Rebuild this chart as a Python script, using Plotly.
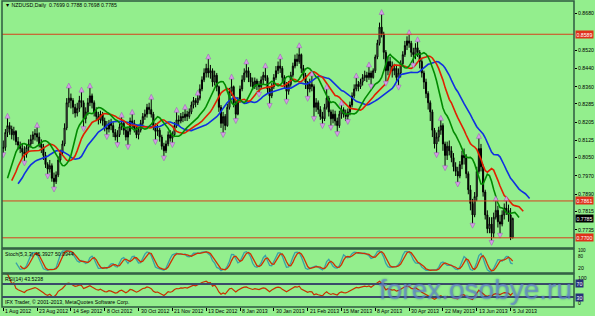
import plotly.graph_objects as go

# ---------------- data ----------------
first_open = 0.8090
closes = [
 .8095,.8160,.8190,.8175,.8150,.8165,.8120,.8105,.8090,.8075,
 .8065,.8095,.8110,.8130,.8150,.8155,.8140,.8110,.8095,.8060,
 .8020,.8000,.8015,.7960,.7945,.7975,.8040,.8070,.8110,.8180,
 .8290,.8310,.8300,.8270,.8245,.8265,.8300,.8290,.8220,.8250,
 .8290,.8320,.8290,.8250,.8230,.8215,.8240,.8210,.8180,.8175,
 .8200,.8190,.8160,.8140,.8150,.8185,.8200,.8170,.8140,.8165,
 .8210,.8200,.8180,.8150,.8170,.8200,.8230,.8240,.8270,.8260,
 .8240,.8190,.8165,.8170,.8140,.8100,.8080,.8110,.8150,.8135,
 .8150,.8190,.8215,.8210,.8230,.8225,.8240,.8230,.8250,.8280,
 .8300,.8290,.8310,.8350,.8390,.8420,.8440,.8420,.8430,.8380,
 .8410,.8360,.8270,.8200,.8230,.8190,.8270,.8340,.8360,.8290,
 .8240,.8300,.8350,.8390,.8420,.8430,.8400,.8380,.8360,.8385,
 .8370,.8360,.8390,.8410,.8400,.8350,.8320,.8360,.8400,.8430,
 .8450,.8440,.8400,.8370,.8340,.8370,.8410,.8450,.8480,.8470,
 .8500,.8440,.8410,.8380,.8350,.8370,.8360,.8270,.8290,.8260,
 .8230,.8220,.8270,.8310,.8250,.8220,.8240,.8210,.8190,.8240,
 .8260,.8240,.8230,.8250,.8280,.8320,.8350,.8370,.8360,.8380,
 .8400,.8410,.8400,.8420,.8400,.8430,.8490,.8550,.8620,.8590,
 .8510,.8430,.8470,.8450,.8430,.8440,.8400,.8420,.8460,.8500,
 .8540,.8560,.8550,.8510,.8500,.8530,.8510,.8470,.8420,.8380,
 .8330,.8290,.8250,.8170,.8110,.8140,.8170,.8190,.8110,.8060,
 .8100,.8080,.8050,.8010,.7990,.7970,.8020,.8060,.8050,.7980,
 .7910,.7850,.7800,.7880,.7990,.8090,.8010,.7900,.7800,.7740,
 .7760,.7720,.7790,.7820,.7770,.7760,.7800,.7830,.7820,.7800,
 .7700,.7785]
highs = [
 .8125,.8175,.8224,.8205,.8190,.8185,.8170,.8140,.8120,.8110,
 .8100,.8110,.8130,.8150,.8165,.8175,.8184,.8160,.8130,.8110,
 .8075,.8030,.8040,.8025,.7985,.7990,.8055,.8085,.8125,.8200,
 .8310,.8356,.8330,.8310,.8285,.8290,.8320,.8338,.8300,.8270,
 .8310,.8356,.8330,.8300,.8270,.8250,.8255,.8250,.8225,.8210,
 .8215,.8220,.8205,.8175,.8170,.8200,.8228,.8210,.8185,.8180,
 .8225,.8241,.8215,.8195,.8185,.8215,.8245,.8260,.8285,.8290,
 .8307,.8250,.8200,.8195,.8180,.8150,.8115,.8125,.8165,.8170,
 .8165,.8205,.8250,.8235,.8245,.8250,.8263,.8255,.8265,.8295,
 .8315,.8310,.8325,.8370,.8405,.8440,.8460,.8483,.8455,.8440,
 .8430,.8420,.8365,.8280,.8250,.8240,.8285,.8355,.8395,.8365,
 .8300,.8315,.8365,.8410,.8440,.8461,.8445,.8420,.8400,.8400,
 .8395,.8385,.8405,.8425,.8444,.8410,.8360,.8375,.8415,.8450,
 .8470,.8483,.8450,.8410,.8380,.8385,.8425,.8465,.8500,.8505,
 .8532,.8505,.8455,.8420,.8385,.8395,.8409,.8370,.8310,.8300,
 .8275,.8250,.8285,.8351,.8320,.8260,.8260,.8255,.8225,.8255,
 .8281,.8270,.8260,.8265,.8295,.8335,.8370,.8400,.8385,.8395,
 .8415,.8430,.8425,.8448,.8430,.8440,.8500,.8565,.8640,.8677,
 .8600,.8520,.8490,.8490,.8470,.8460,.8455,.8440,.8475,.8515,
 .8560,.8580,.8589,.8560,.8530,.8550,.8558,.8520,.8480,.8430,
 .8395,.8340,.8300,.8260,.8180,.8160,.8185,.8215,.8200,.8120,
 .8120,.8125,.8100,.8070,.8030,.8010,.8035,.8080,.8090,.8065,
 .7990,.7930,.7870,.7900,.8010,.8136,.8110,.8020,.7910,.7820,
 .7790,.7790,.7810,.7863,.7840,.7800,.7820,.7850,.7863,.7845,
 .7830,.7788]
lows = [
 .8070,.8080,.8140,.8150,.8130,.8125,.8105,.8085,.8070,.8050,
 .8034,.8050,.8075,.8095,.8110,.8125,.8120,.8095,.8070,.8040,
 .8005,.7977,.7985,.7945,.7920,.7935,.7965,.8030,.8060,.8100,
 .8170,.8270,.8265,.8240,.8225,.8230,.8250,.8270,.8184,.8200,
 .8235,.8275,.8265,.8230,.8210,.8195,.8200,.8190,.8165,.8149,
 .8160,.8170,.8140,.8125,.8114,.8140,.8170,.8150,.8125,.8105,
 .8150,.8180,.8160,.8135,.8130,.8160,.8190,.8215,.8225,.8240,
 .8225,.8170,.8127,.8145,.8120,.8085,.8056,.8070,.8100,.8120,
 .8114,.8140,.8180,.8190,.8200,.8205,.8210,.8210,.8220,.8240,
 .8265,.8270,.8280,.8300,.8340,.8380,.8400,.8400,.8395,.8360,
 .8365,.8340,.8250,.8180,.8158,.8170,.8185,.8260,.8320,.8270,
 .8219,.8235,.8290,.8340,.8380,.8400,.8380,.8360,.8345,.8350,
 .8345,.8334,.8350,.8370,.8385,.8330,.8285,.8310,.8350,.8390,
 .8415,.8420,.8380,.8350,.8303,.8325,.8360,.8400,.8440,.8450,
 .8460,.8420,.8390,.8350,.8316,.8335,.8340,.8228,.8250,.8240,
 .8215,.8197,.8210,.8260,.8230,.8189,.8200,.8190,.8162,.8180,
 .8220,.8225,.8210,.8215,.8235,.8270,.8310,.8340,.8340,.8350,
 .8365,.8385,.8380,.8390,.8369,.8395,.8420,.8480,.8540,.8575,
 .8480,.8382,.8410,.8420,.8400,.8410,.8380,.8365,.8400,.8450,
 .8490,.8520,.8530,.8490,.8461,.8480,.8490,.8440,.8400,.8350,
 .8310,.8260,.8210,.8140,.8090,.8070,.8120,.8150,.8080,.8013,
 .8040,.8060,.8030,.7990,.7970,.7942,.7960,.8000,.8020,.7960,
 .7890,.7820,.7762,.7790,.7860,.7980,.7990,.7880,.7780,.7720,
 .7720,.7687,.7700,.7780,.7745,.7718,.7750,.7780,.7800,.7770,
 .7690,.7698]

up_fractal_bars = [2,16,31,37,41,56,61,70,82,86,92,97,108,115,124,131,140,146,
                   153,160,167,173,179,192,196,207,225,233,238]
down_fractal_bars = [0,10,21,24,38,49,54,59,72,76,80,104,110,121,126,134,144,147,
                     151,155,158,163,174,181,187,194,205,209,215,222,231,235]

# Alligator values at the left edge
jaw_seed, teeth_seed, lips_seed = 0.7936, 0.7950, 0.7960

date_tick_bars = [0,16,32,48,64,80,96,112,128,144,160,176,192,208,224,240]
date_tick_labels = ["1 Aug 2012","23 Aug 2012","14 Sep 2012","8 Oct 2012","30 Oct 2012",
                    "21 Nov 2012","13 Dec 2012","8 Jan 2013","30 Jan 2013","21 Feb 2013",
                    "15 Mar 2013","8 Apr 2013","30 Apr 2013","22 May 2013","13 Jun 2013","5 Jul 2013"]
price_ticks = [0.8680,0.8520,0.8440,0.8360,0.8285,0.8205,0.8125,0.8050,0.7970,0.7890,
               0.7815,0.7735,0.7655]
hlines_red = [0.8589, 0.7861, 0.7700]
last_price = 0.7785

title_text = "\u25BC NZDUSD,Daily  0.7699 0.7788 0.7698 0.7785"
stoch_text = "Stoch(5,3,3) 45.3927 50.0944"
rsi_text = "RSI(14) 43.5238"
copy_text = "IFX Trader, \u00a9 2001-2013, MetaQuotes Software Corp."
watermark = "forex.osobye.ru"

# ---------------- derived series ----------------
n = len(closes)
xs = list(range(n))
opens = [first_open] + closes[:-1]
median = [(h + l) / 2 for h, l in zip(highs, lows)]

def smma(vals, period, seed):
    out = [seed]
    s = seed
    for v in vals:
        s = (s * (period - 1) + v) / period
        out.append(s)
    return out

jaw = smma(median, 13, jaw_seed)
teeth = smma(median, 8, teeth_seed)
lips = smma(median, 5, lips_seed)
jaw_x = [i - 1 + 8 for i in range(len(jaw))]
teeth_x = [i - 1 + 5 for i in range(len(teeth))]
lips_x = [i - 1 + 3 for i in range(len(lips))]

# stochastic 5,3,3
st_main = [None] * n
for i in range(6, n):
    num = den = 0.0
    for j in range(i - 2, i + 1):
        ll = min(lows[j - 4:j + 1]); hh = max(highs[j - 4:j + 1])
        num += closes[j] - ll; den += hh - ll
    st_main[i] = 100 * num / den if den else 50
st_sig = [None] * n
for i in range(8, n):
    st_sig[i] = sum(st_main[i - 2:i + 1]) / 3

# RSI 14
rsi = [None] * n
ag = al = 0.0
for i in range(1, n):
    ch = closes[i] - closes[i - 1]
    g, l = max(ch, 0), max(-ch, 0)
    k = min(i, 14)
    ag = (ag * (k - 1) + g) / k
    al = (al * (k - 1) + l) / k
    rsi[i] = 100 - 100 / (1 + ag / al) if al > 0 else 100

# ---------------- figure ----------------
BG = "#93EE8D"
FR = "#2f5a40"
W, H = 595, 316
def px(x): return x / W
def py(y): return 1 - y / H

XL, XR = px(2), px(574)
XRANGE = [-0.6, 270]
FONT = "Arial, Liberation Sans, sans-serif"

fig = go.Figure()
fig.add_trace(go.Candlestick(
    x=xs, open=opens, high=highs, low=lows, close=closes,
    increasing=dict(line=dict(color="#000000", width=1), fillcolor="#b8c4b4"),
    decreasing=dict(line=dict(color="#000000", width=1), fillcolor="#000000"),
    whiskerwidth=0, xaxis="x", yaxis="y", hoverinfo="skip"))

for xx, yy, col in [(jaw_x, jaw, "#1030e0"), (teeth_x, teeth, "#e02000"), (lips_x, lips, "#008a00")]:
    fig.add_trace(go.Scatter(x=xx, y=yy, mode="lines", line=dict(color=col, width=1.6),
                             xaxis="x", yaxis="y", hoverinfo="skip"))

fig.add_trace(go.Scatter(x=up_fractal_bars, y=[highs[b] + 0.0020 for b in up_fractal_bars],
                         mode="markers", marker=dict(symbol="arrow-up", size=5, color="#d69ae6",
                         line=dict(color="#9a5ab4", width=0.5)), xaxis="x", yaxis="y", hoverinfo="skip"))
fig.add_trace(go.Scatter(x=down_fractal_bars, y=[lows[b] - 0.0020 for b in down_fractal_bars],
                         mode="markers", marker=dict(symbol="arrow-down", size=5, color="#d69ae6",
                         line=dict(color="#9a5ab4", width=0.5)), xaxis="x", yaxis="y", hoverinfo="skip"))

fig.add_trace(go.Scatter(x=xs, y=st_main, mode="lines", line=dict(color="#3aa0a8", width=1.3),
                         xaxis="x2", yaxis="y2", hoverinfo="skip"))
fig.add_trace(go.Scatter(x=xs, y=st_sig, mode="lines", line=dict(color="#d03000", width=1.3),
                         xaxis="x2", yaxis="y2", hoverinfo="skip"))
fig.add_trace(go.Scatter(x=xs, y=rsi, mode="lines", line=dict(color="#c83000", width=1.2),
                         xaxis="x3", yaxis="y3", hoverinfo="skip"))

shapes = []
for v in hlines_red:
    shapes.append(dict(type="line", xref="paper", yref="y", x0=XL, x1=XR, y0=v, y1=v,
                       line=dict(color="#d8401c", width=1)))
for v in [70, 30]:
    shapes.append(dict(type="line", xref="paper", yref="y3", x0=XL, x1=XR, y0=v, y1=v,
                       line=dict(color="#3a4a6a", width=2)))
for (t, b) in [(1, 248), (249, 273), (274, 307)]:
    shapes.append(dict(type="rect", xref="paper", yref="paper", x0=XL, x1=XR, y0=py(b), y1=py(t),
                       line=dict(color=FR, width=1.5)))

ann = []
def txt(x, y, s, size=5.2, color="#000000", anchor="left", bg=None, yref="paper"):
    d = dict(x=x, y=y, xref="paper", yref=yref, text=s, showarrow=False, xanchor=anchor,
             yanchor="middle", font=dict(family=FONT, size=size, color=color))
    if bg:
        d.update(bgcolor=bg, borderpad=0.5)
    ann.append(d)

txt(px(3), py(5), title_text)
txt(px(3), py(254), stoch_text)
txt(px(3), py(279), rsi_text)
txt(px(3), py(302), copy_text)
for v in hlines_red:
    txt(px(575), v, f"{v:.4f}", color="#ffffff", bg="#e0301a", yref="y")
txt(px(575), last_price, f"{last_price:.4f}", color="#ffffff", bg="#000000", yref="y")
txt(px(576), py(250.3), "100", size=4.6)
txt(px(576), py(256.5), "80", size=4.6)
txt(px(576), py(267.5), "20")
txt(px(576), py(278), "100")
txt(px(575), 70, "70", color="#ffffff", bg="#28307a", yref="y3")
txt(px(575), 30, "30", color="#ffffff", bg="#28307a", yref="y3")
txt(px(576), py(302.5), "0")
for b, lab in zip(date_tick_bars, date_tick_labels):
    ann.append(dict(x=b, y=py(311), xref="x3", yref="paper", text=lab, showarrow=False,
                    xanchor="left", yanchor="middle", font=dict(family=FONT, size=5.2, color="#000000")))
ann.append(dict(x=px(574), y=py(289), xref="paper", yref="paper", text=watermark, showarrow=False,
                xanchor="right", yanchor="middle",
                font=dict(family=FONT, size=28, color="rgba(110,145,215,0.6)",
                          shadow="0px 0px 2px rgba(30,50,140,0.9)")))

common_x = dict(range=XRANGE, showgrid=False, zeroline=False, showline=False, domain=[XL, XR],
                fixedrange=True)
fig.update_layout(
    width=W, height=H, margin=dict(l=0, r=0, t=0, b=0),
    paper_bgcolor=BG, plot_bgcolor=BG, showlegend=False,
    xaxis=dict(**common_x, anchor="y", showticklabels=False, rangeslider=dict(visible=False)),
    xaxis2=dict(**common_x, anchor="y2", showticklabels=False, matches="x"),
    xaxis3=dict(**common_x, anchor="y3", showticklabels=False, matches="x",
                tickmode="array", tickvals=date_tick_bars, ticks="outside", ticklen=3,
                tickcolor="#000000", tickwidth=1),
    yaxis=dict(domain=[py(248), py(1)], range=[0.76515 + 0.0004, 0.8589 + 33 / 2272],
               side="right", anchor="x", showgrid=False, zeroline=False,
               tickmode="array", tickvals=price_ticks, ticktext=[f"{v:.4f}" for v in price_ticks],
               ticks="outside", ticklen=2, tickcolor="#000000",
               tickfont=dict(family=FONT, size=5.2, color="#000000")),
    yaxis2=dict(domain=[py(273), py(249)], range=[0, 100], anchor="x2", showgrid=False,
                zeroline=False, showticklabels=False),
    yaxis3=dict(domain=[py(307), py(274)], range=[0, 100], anchor="x3", showgrid=False,
                zeroline=False, showticklabels=False),
    shapes=shapes, annotations=ann,
)
fig.write_html("out.html")
